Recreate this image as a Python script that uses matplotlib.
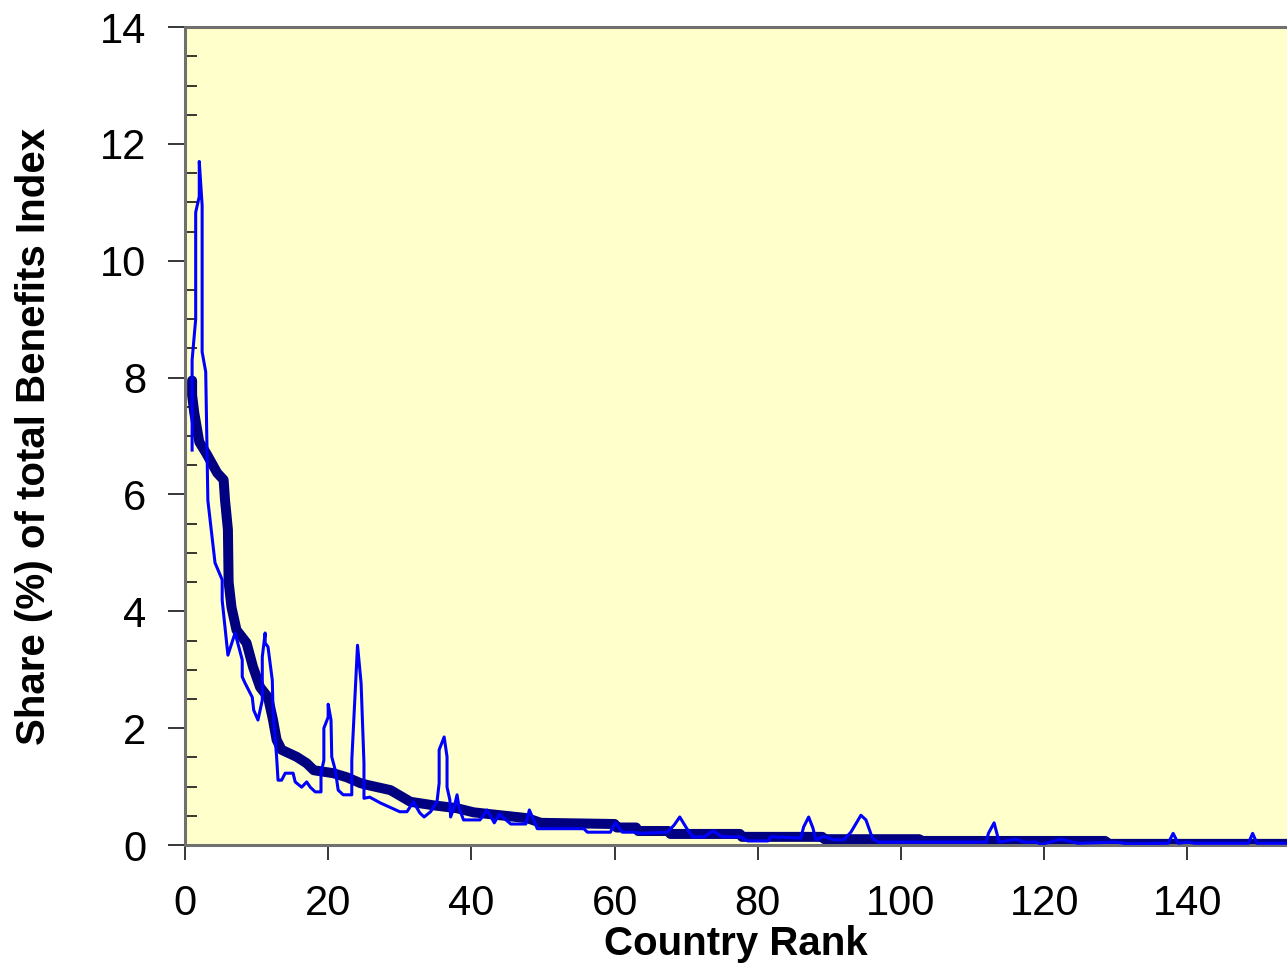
import matplotlib
matplotlib.use("Agg")
import matplotlib.pyplot as plt
from matplotlib.ticker import MultipleLocator

plt.rcParams['font.family'] = ['Liberation Sans', 'DejaVu Sans']

# thick series: share of total benefits index, by country rank
main_rank = [1, 1, 1.3, 2, 3, 4.5, 5.4, 5.6, 6.0, 6.1, 6.5, 7.2, 8.6, 9.5, 10.5,
             11.6, 12.3, 12.8, 13.5, 15.6, 17, 18, 20.7, 22.6, 24.5, 25.4, 28.7,
             31.5, 34.7, 38, 40.3, 44, 47.8, 49.7, 60, 60.3, 63, 63.3, 67.5, 67.8,
             77.5, 77.8, 89, 89.3, 102.5, 103, 128.5, 129, 154]
main_share = [7.95, 7.7, 7.4, 6.9, 6.7, 6.37, 6.25, 5.9, 5.4, 4.5, 4.07, 3.68, 3.46,
              3.05, 2.7, 2.53, 2.14, 1.8, 1.63, 1.51, 1.4, 1.28, 1.23, 1.16, 1.06,
              1.03, 0.94, 0.74, 0.68, 0.63, 0.56, 0.51, 0.46, 0.38, 0.36, 0.3, 0.3,
              0.24, 0.24, 0.19, 0.19, 0.14, 0.14, 0.1, 0.1, 0.07, 0.07, 0.02, 0.02]

# thin series
alt_rank = [1, 1, 1.5, 1.5, 2, 2, 2.4, 2.4, 2.9, 3.2, 4.2, 5.2, 5.2, 6.0, 7.0, 8.0,
            8.0, 8.4, 9.4, 9.6, 10.2, 10.8, 10.8, 11.2, 11.2, 11.6, 12.2, 12.3, 12.8,
            13.0, 13.5, 14, 15.1, 15.4, 16.3, 17, 17.5, 18.2, 19, 19, 19.4, 19.4, 20,
            20, 20.4, 20.5, 21, 21.4, 22.1, 23.3, 23.3, 23.8, 24.1, 24.6, 25, 25,
            25.8, 27.3, 30, 31, 31.9, 32.8, 33.4, 34.3, 35.2, 35.5, 35.5, 36.2, 36.6,
            36.6, 37, 37.1, 37.6, 38, 38.3, 38.9, 41.2, 42.2, 43.2, 43.9, 45.5, 47.6,
            48.1, 48.7, 49.2, 55.7, 56.2, 59.4, 60.1, 61.1, 62.7, 63.6, 67.4, 68.3,
            69.1, 70.2, 70.9, 72.5, 73.7, 75.1, 77.6, 78.6, 81.4, 81.8, 86, 86.4,
            87.1, 87.7, 88.1, 89.2, 90.6, 92, 93, 94.4, 95.1, 96, 96.8, 111.9, 112.2,
            113, 113.7, 116, 117.2, 118.9, 119.6, 122.3, 124.7, 130, 131.7, 137.3,
            138, 138.7, 140.1, 141, 148.5, 149.1, 149.7, 154]
alt_share = [6.76, 8.3, 9.0, 10.83, 11.1, 11.7, 10.95, 8.44, 8.1, 5.9, 4.83, 4.54,
             4.19, 3.25, 3.63, 3.17, 2.88, 2.77, 2.53, 2.31, 2.14, 2.48, 3.22, 3.63,
             3.46, 3.39, 2.82, 2.31, 1.51, 1.11, 1.11, 1.23, 1.23, 1.08, 0.99, 1.08,
             0.99, 0.91, 0.91, 1.23, 1.45, 2.0, 2.19, 2.41, 2.14, 1.51, 1.28, 0.94,
             0.86, 0.86, 1.45, 2.7, 3.42, 2.77, 1.4, 0.8, 0.82, 0.72, 0.57, 0.57,
             0.74, 0.55, 0.48, 0.57, 0.74, 1.06, 1.63, 1.85, 1.51, 0.99, 0.77, 0.48,
             0.65, 0.86, 0.63, 0.43, 0.43, 0.6, 0.38, 0.53, 0.36, 0.36, 0.6, 0.43,
             0.28, 0.28, 0.22, 0.22, 0.38, 0.22, 0.22, 0.2, 0.22, 0.34, 0.48, 0.26,
             0.14, 0.14, 0.24, 0.14, 0.14, 0.07, 0.07, 0.14, 0.12, 0.31, 0.48, 0.29,
             0.09, 0.15, 0.09, 0.09, 0.22, 0.51, 0.43, 0.12, 0.05, 0.05, 0.2, 0.38,
             0.05, 0.1, 0.05, 0.05, 0.01, 0.1, 0.03, 0.05, 0.02, 0.03, 0.2, 0.03,
             0.05, 0.03, 0.03, 0.2, 0.03, 0.03]

fig = plt.figure(figsize=(12.87, 9.74), dpi=100)
ax = fig.add_axes([0.1437, 0.1324, 0.8563, 0.8398])
ax.set_facecolor('#FFFFCC')

ax.plot(main_rank, main_share, color='#000080', lw=7.2, solid_joinstyle='round',
        solid_capstyle='round', zorder=2)
ax.plot(alt_rank, alt_share, color='#0000FF', lw=2.2, zorder=3)

ax.set_xlim(0, 153.9)
ax.set_ylim(0, 14)
ax.xaxis.set_major_locator(MultipleLocator(20))
ax.yaxis.set_major_locator(MultipleLocator(2))
ax.yaxis.set_minor_locator(MultipleLocator(0.5))

ax.tick_params(axis='x', which='major', direction='out', length=11, width=1.1,
               pad=17, labelsize=30)
ax.tick_params(axis='y', which='major', direction='out', length=12, width=1.1,
               pad=16, labelsize=30)
ax.tick_params(axis='y', which='minor', direction='in', length=8.5, width=1.1)

for side in ['left', 'bottom', 'top']:
    ax.spines[side].set_color('#707070')
    ax.spines[side].set_linewidth(2.2)
ax.spines['right'].set_visible(False)

ax.set_xlabel('Country Rank', fontsize=29, fontweight='bold')
ax.set_ylabel('Share (%) of total Benefits Index', fontsize=29, fontweight='bold')
ax.xaxis.set_label_coords(0.5, -0.098)
ax.yaxis.set_label_coords(-0.12, 0.5)

fig.savefig('out.png', dpi=100)
